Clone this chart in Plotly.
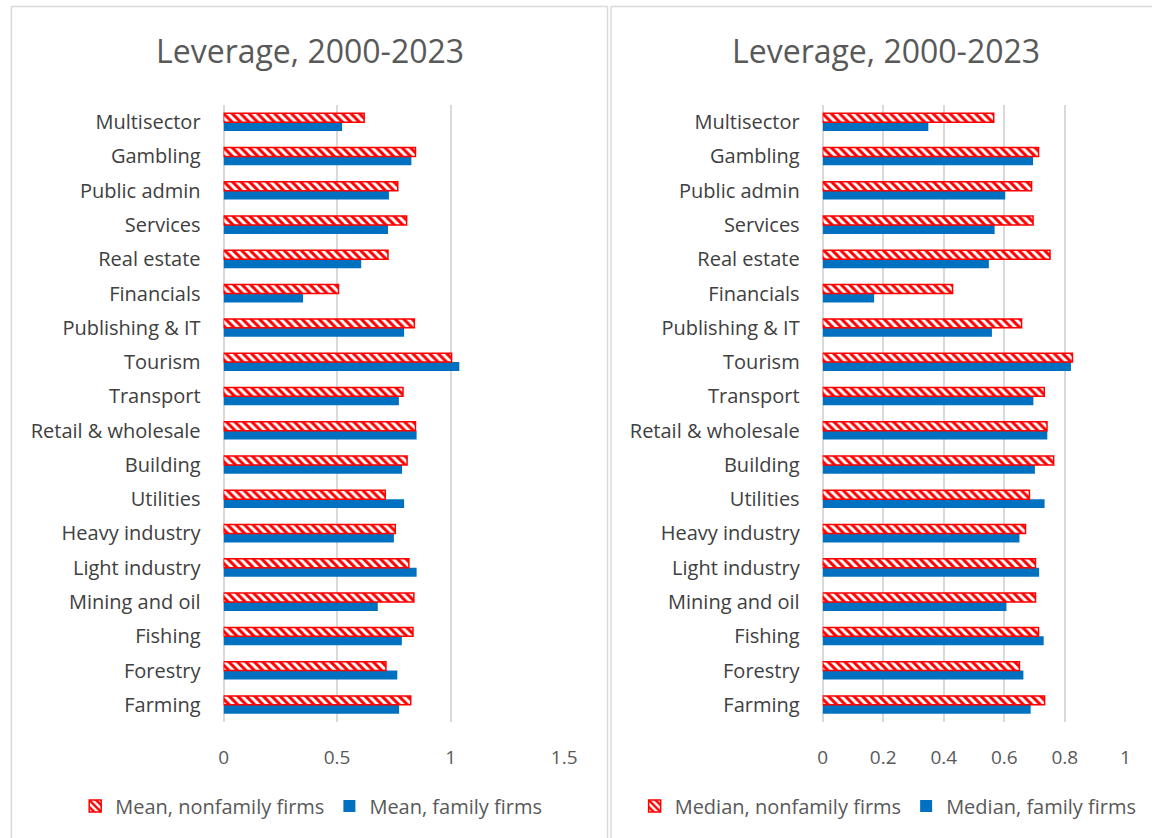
import plotly.graph_objects as go

W, H = 1165, 838

categories = ["Farming", "Forestry", "Fishing", "Mining and oil", "Light industry",
              "Heavy industry", "Utilities", "Building", "Retail & wholesale", "Transport",
              "Tourism", "Publishing & IT", "Financials", "Real estate", "Services",
              "Public admin", "Gambling", "Multisector"]

mean_nonfamily = [0.824, 0.715, 0.834, 0.838, 0.816, 0.756, 0.712, 0.808, 0.845, 0.790,
                  1.004, 0.840, 0.506, 0.724, 0.806, 0.767, 0.845, 0.619]
mean_family = [0.773, 0.765, 0.785, 0.679, 0.850, 0.750, 0.795, 0.786, 0.850, 0.772,
               1.038, 0.795, 0.350, 0.606, 0.724, 0.728, 0.827, 0.522]

median_nonfamily = [0.733, 0.650, 0.713, 0.703, 0.703, 0.670, 0.683, 0.763, 0.741, 0.732,
                    0.825, 0.657, 0.429, 0.751, 0.695, 0.690, 0.713, 0.565]
median_family = [0.687, 0.663, 0.730, 0.607, 0.715, 0.650, 0.733, 0.701, 0.742, 0.696,
                 0.820, 0.559, 0.170, 0.549, 0.568, 0.603, 0.695, 0.349]

left_ticks = [0, 0.5, 1, 1.5]
right_ticks = [0, 0.2, 0.4, 0.6, 0.8, 1]

RED = "#FF0000"
BLUE = "#0070C0"
GRID = "#D9D9D9"
FONT = "Open Sans"

def px(x):
    return x / W

def py(y):
    return 1 - y / H

fig = go.Figure()

def add_pair(fam_vals, nonfam_vals, fam_name, nonfam_name, xa, ya, legend):
    fig.add_trace(go.Bar(
        y=categories, x=fam_vals, name=fam_name, orientation="h",
        marker=dict(color=BLUE, line=dict(width=0)),
        xaxis=xa, yaxis=ya, legend=legend, legendrank=2,
        hoverinfo="x+y",
    ))
    fig.add_trace(go.Bar(
        y=categories, x=nonfam_vals, name=nonfam_name, orientation="h",
        marker=dict(color="white", line=dict(color=RED, width=1.5),
                    pattern=dict(shape="\\", fgcolor=RED, bgcolor="white",
                                 size=6, solidity=0.5, fillmode="replace")),
        xaxis=xa, yaxis=ya, legend=legend, legendrank=1,
        hoverinfo="x+y",
    ))

add_pair(mean_family, mean_nonfamily, "Mean, family firms", "Mean, nonfamily firms", "x", "y", "legend")
add_pair(median_family, median_nonfamily, "Median, family firms", "Median, nonfamily firms", "x2", "y2", "legend2")

ydom = [py(722), py(105)]
axis_common = dict(showgrid=True, gridcolor=GRID, gridwidth=1.5, zeroline=True,
                   zerolinecolor=GRID, zerolinewidth=1.5, showline=False,
                   tickfont=dict(family=FONT, size=19, color="#595959"),
                   ticks="", ticklabelstandoff=22, fixedrange=True)
ycommon = dict(showgrid=False, zeroline=False, showline=False, ticks="",
               tickfont=dict(family=FONT, size=20, color="#404040"),
               ticklabelstandoff=22, categoryorder="array", categoryarray=categories,
               fixedrange=True)

legend_font = dict(family=FONT, size=20, color="#595959")

fig.update_layout(
    width=W, height=H,
    margin=dict(l=0, r=0, t=0, b=0),
    paper_bgcolor="white", plot_bgcolor="white",
    barmode="group", bargap=0.48, bargroupgap=0.0,
    showlegend=True,
    xaxis=dict(domain=[px(222), px(568)], range=[0, 1.5], tickvals=left_ticks,
               ticktext=[str(t) for t in left_ticks], anchor="y", **axis_common),
    yaxis=dict(domain=ydom, anchor="x", **ycommon),
    xaxis2=dict(domain=[px(830.5), px(1138)], range=[0, 1], tickvals=right_ticks,
                ticktext=[("0" if t == 0 else ("1" if t == 1 else f"{t:.1f}")) for t in right_ticks],
                anchor="y2", **axis_common),
    yaxis2=dict(domain=ydom, anchor="x2", **ycommon),
    legend=dict(orientation="h", x=px(311), xanchor="center", y=py(806), yanchor="middle",
                font=legend_font, bgcolor="rgba(0,0,0,0)",
                itemwidth=30, traceorder="normal"),
    legend2=dict(orientation="h", x=px(897), xanchor="center", y=py(806), yanchor="middle",
                 font=legend_font, bgcolor="rgba(0,0,0,0)",
                 itemwidth=30, traceorder="normal"),
    annotations=[
        dict(text="Leverage, 2000-2023", x=px(310), y=py(50), xref="paper", yref="paper",
             showarrow=False, xanchor="center", yanchor="middle",
             font=dict(family=FONT, size=32, color="#595959")),
        dict(text="Leverage, 2000-2023", x=px(895), y=py(50), xref="paper", yref="paper",
             showarrow=False, xanchor="center", yanchor="middle",
             font=dict(family=FONT, size=32, color="#595959")),
    ],
    shapes=[
        dict(type="line", xref="paper", yref="paper", x0=px(6.5), x1=px(612), y0=py(6.5), y1=py(6.5),
             line=dict(color=GRID, width=1.5)),
        dict(type="line", xref="paper", yref="paper", x0=px(6.5), x1=px(6.5), y0=py(6.5), y1=0,
             line=dict(color=GRID, width=1.5)),
        dict(type="line", xref="paper", yref="paper", x0=px(612), x1=px(612), y0=py(6.5), y1=0,
             line=dict(color=GRID, width=1.5)),
        dict(type="line", xref="paper", yref="paper", x0=px(615.5), x1=1, y0=py(6.5), y1=py(6.5),
             line=dict(color=GRID, width=1.5)),
        dict(type="line", xref="paper", yref="paper", x0=px(615.5), x1=px(615.5), y0=py(6.5), y1=0,
             line=dict(color=GRID, width=1.5)),
    ],
)

post = ("document.documentElement.style.margin='0';document.documentElement.style.padding='0';"
        "document.documentElement.style.overflow='hidden';"
        "document.body.style.margin='0';document.body.style.padding='0';"
        "document.body.style.overflow='hidden';")

fig.write_html("out.html", config={"displayModeBar": False, "responsive": False},
               post_script=post)
